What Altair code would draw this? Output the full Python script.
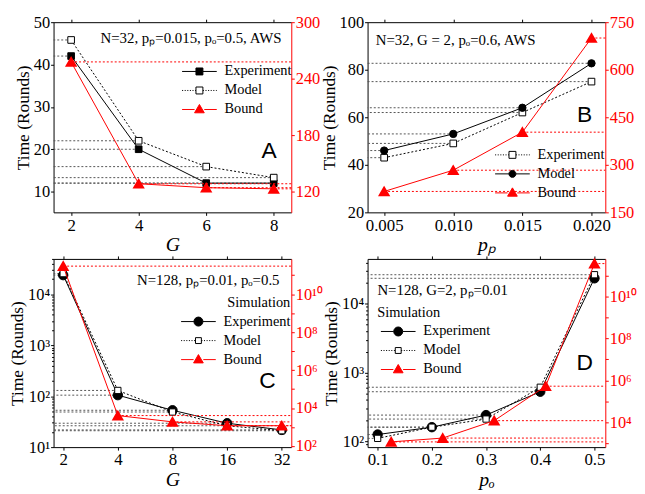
import altair as alt
import pandas as pd

SERIF = "Liberation Serif"
SANS = "Liberation Sans"
RED = "#ff0000"
DROP = "#555555"

# ---------------- Panel A (AWS, vs G) ----------------
A_G = [2, 4, 6, 8]
A_experiment = [42.0, 20.0, 12.0, 12.0]
A_model = [45.8, 22.0, 15.9, 13.3]
A_bound = [257.8, 128.4, 124.2, 123.0]

# ---------------- Panel B (AWS, vs p_p) ----------------
B_pp = [0.005, 0.010, 0.015, 0.020]
B_experiment = [43.0, 49.0, 62.0, 75.0]
B_model = [46.0, 53.0, 64.0, 82.7]
B_bound = [216.0, 283.0, 403.0, 700.0]

# ---------------- Panel C (simulation, vs G) ----------------
C_G = [2, 4, 8, 16, 32]
C_experiment = [24000, 105, 53, 29.5, 21.8]
C_model = [25700, 130, 49, 26.3, 21.0]
C_bound = [3.0e11, 4000, 1860, 1170, 1170]

# ---------------- Panel D (simulation, vs p_o) ----------------
D_po = [0.1, 0.2, 0.3, 0.4, 0.5]
D_experiment = [125, 160, 240, 525, 23500]
D_model = [110, 160, 210, 610, 26500]
D_po_bound = [0.125, 0.22, 0.315, 0.41, 0.5]
D_bound = [1170, 1780, 12000, 525000, 3.6e11]

SERIES = ["Experiment", "Model", "Bound"]

ANNOT = {
    "A": ("N=32, pₚ=0.015, pₒ=0.5, AWS", 8.23, 46.3, "right"),
    "B": ("N=32, G = 2, pₒ=0.6, AWS", 0.00439, 92.5, "left"),
    "C": ("N=128, pₚ=0.01, pₒ=0.5", 31.1, 19000, "right"),
    "D": ("N=128, G=2, pₚ=0.01", 0.0995, 16000, "left"),
}
LETTER = {"A": (7.86, 19.5), "B": (0.0195, 60.8), "C": (26.7, 200), "D": (0.482, 1350)}

W = 240


# ---------- legend symbol paths (line - marker - line) ----------
def seg_solid(x0, x1):
    return f"M{x0:.2f},0H{x1:.2f}"


def seg_dotted(x0, x1, on=0.3, off=0.45):
    s, x = "", x0
    while x < x1 - 1e-9:
        e = min(x + on, x1)
        s += f"M{x:.2f},0H{e:.2f}"
        x = e + off
    return s


def square_path(h):
    return f"M{4-h:.2f},{-h:.2f}H{4+h:.2f}V{h:.2f}H{4-h:.2f}Z"


def circle_path(rc):
    return (f"M{4+rc:.2f},0A{rc},{rc},0,1,1,{4-rc:.2f},0"
            f"A{rc},{rc},0,1,1,{4+rc:.2f},0Z")


TRI = "M4,-1.45L5.4,0.95H2.6Z"


def legend_symbol(marker, gap, dots):
    seg = seg_dotted if dots else seg_solid
    return seg(-1, 4 - gap) + seg(4 + gap, 9) + marker


def sup_expr(exps):
    tr = str.maketrans("0123456789", "⁰¹²³⁴⁵⁶⁷⁸⁹")
    e = "round(log(datum.value)/LN10)"
    parts = [f"{e} == {k} ? '10{str(k).translate(tr)}'" for k in exps]
    return " : ".join(parts) + " : ''"


def legend_layer(paths, fills, strokes, lx, ly, title=None, anchor="start", tpad=4):
    kw = dict(orient="none", legendX=lx, legendY=ly, symbolSize=49,
              symbolStrokeWidth=1, labelFont=SERIF, labelFontSize=14.5,
              labelColor="black", labelOffset=32, rowPadding=4.2, padding=0,
              symbolOpacity=1, labelLimit=300)
    if title:
        kw.update(title=title, titleFont=SERIF, titleFontSize=14.5,
                  titleFontWeight="normal", titleColor="black",
                  titleAnchor=anchor, titlePadding=tpad)
    else:
        kw.update(title=None)
    leg = alt.Legend(**kw)
    df = pd.DataFrame({"series": SERIES})
    return alt.Chart(df).transform_filter("false").mark_point(filled=True, opacity=1).encode(
        shape=alt.Shape("series:N", scale=alt.Scale(domain=SERIES, range=paths), legend=leg),
        fill=alt.Fill("series:N", scale=alt.Scale(domain=SERIES, range=fills), legend=leg),
        stroke=alt.Stroke("series:N", scale=alt.Scale(domain=SERIES, range=strokes), legend=leg),
    )


def make_panel(key, H, xs, xticks, xfmt, xtitle, yl, ylticks, yl_label, yr, yrticks,
               yr_label, left_series, bx, by, legend, minor=None):
    ax_bottom = alt.Axis(orient="bottom", values=xticks, title=xtitle,
                         titleFontStyle="italic", titleFontSize=20, titlePadding=2,
                         tickSize=3, labelPadding=2, format=xfmt, labelFlush=False)
    ax_top = alt.Axis(orient="top", values=xticks, labels=False, title=None,
                      tickSize=3, domain=True)
    lkw = dict(orient="left", values=ylticks, title="Time (Rounds)", titleFontSize=17.5,
               titlePadding=1, tickSize=3, labelPadding=1, labelFontSize=16.5)
    lkw.update(yl_label)
    ax_left = alt.Axis(**lkw)
    rkw = dict(orient="right", values=yrticks, title=None, tickSize=3, labelPadding=1,
               labelFontSize=16.5, domainColor=RED, tickColor=RED, labelColor=RED)
    rkw.update(yr_label)
    ax_right = alt.Axis(**rkw)

    def X(axis=None):
        return alt.X("x:Q", scale=xs, axis=axis)

    def YL(axis=None):
        return alt.Y("y:Q", scale=yl, axis=axis)

    def YR(axis=None):
        return alt.Y("y:Q", scale=yr, axis=axis)

    drop_x, drop_y = [], []
    for s in left_series:
        drop_x += s["x"]
        drop_y += s["y"]
    drops = alt.Chart(pd.DataFrame({"x": drop_x, "y": drop_y})).mark_rule(
        color=DROP, strokeDash=[2, 2], strokeWidth=1
    ).encode(x=X(ax_bottom), x2=alt.value(0), y=YL(ax_left))

    layers = [drops]
    for s in left_series:
        df = pd.DataFrame({"x": s["x"], "y": s["y"]})
        lkw2 = dict(color="black", strokeWidth=1)
        if s["dots"]:
            lkw2["strokeDash"] = [2, 2]
        layers.append(alt.Chart(df).mark_line(**lkw2).encode(x=X(), y=YL()))
    for s in left_series:
        df = pd.DataFrame({"x": s["x"], "y": s["y"]})
        layers.append(alt.Chart(df).mark_point(
            shape=s["shape"], filled=True, fill=s["fill"], stroke="black",
            strokeWidth=1, size=s["size"], opacity=1
        ).encode(x=X(), y=YL()))

    text, tx, ty, talign = ANNOT[key]
    layers.append(alt.Chart(pd.DataFrame({"x": [tx], "y": [ty], "t": [text]})).mark_text(
        font=SERIF, fontSize=15, align=talign, baseline="middle", color="black"
    ).encode(x=X(ax_top), y=YL(), text="t:N"))

    lx_, ly_ = LETTER[key]
    minor_axis = None
    if minor:
        minor_axis = alt.Axis(orient="left", values=minor, labels=False, title=None,
                              domain=False, tickSize=2)
    layers.append(alt.Chart(pd.DataFrame({"x": [lx_], "y": [ly_], "t": [key]})).mark_text(
        font=SANS, fontSize=23, align="center", baseline="middle", color="black"
    ).encode(x=X(), y=YL(minor_axis), text="t:N"))

    layers.append(legend)

    left = alt.layer(*layers).resolve_axis(x="independent", y="independent")

    bdf = pd.DataFrame({"x": bx, "y": by})
    right = alt.layer(
        alt.Chart(bdf).mark_rule(color=RED, strokeDash=[2, 2], strokeWidth=1).encode(
            x=X(), x2=alt.value(W), y=YR(ax_right)),
        alt.Chart(bdf).mark_line(color=RED, strokeWidth=1).encode(x=X(), y=YR()),
        alt.Chart(bdf).mark_point(shape="triangle-up", filled=True, fill=RED, stroke=RED,
                                  size=80, opacity=1).encode(x=X(), y=YR()),
    ).resolve_axis(x="independent", y="independent")
    return alt.layer(left, right).resolve_scale(y="independent").properties(width=W, height=H)


def lin(lo, hi):
    return alt.Scale(domain=[lo, hi], nice=False, zero=False)


def logs(lo, hi, base=10):
    return alt.Scale(type="log", base=base, domain=[lo, hi], nice=False)


RC_BIG, RC_SMALL = 1.3, 1.0

# ---- A ----
legA = legend_layer(
    [legend_symbol(square_path(1.0), 1.0, False),
     legend_symbol(square_path(1.0), 1.0, True),
     legend_symbol(TRI, 1.4, False)],
    ["black", "white", RED], ["black", "black", RED], 126, 42.5)
pA = make_panel(
    "A", 192, lin(1.48, 8.52), A_G, "d", "G",
    lin(5.1, 50), [10, 20, 30, 40, 50], {"format": "d"},
    lin(98, 300), [120, 180, 240, 300], {"format": "d"},
    [dict(x=A_G, y=A_experiment, dots=False, shape="square", fill="black", size=45),
     dict(x=A_G, y=A_model, dots=True, shape="square", fill="white", size=45)],
    A_G, A_bound, legA)

# ---- B ----
legB = legend_layer(
    [legend_symbol(square_path(1.0), 1.0, True),
     legend_symbol(circle_path(RC_SMALL), RC_SMALL, False),
     legend_symbol(TRI, 1.4, False)],
    ["white", "black", RED], ["black", "black", RED], 125, 126.7)
pB = make_panel(
    "B", 192, lin(0.0038, 0.021), B_pp, ".3f", "pₚ",
    lin(20, 100), [20, 40, 60, 80, 100], {"format": "d"},
    lin(150, 750), [150, 300, 450, 600, 750], {"format": "d"},
    [dict(x=B_pp, y=B_experiment, dots=True, shape="square", fill="white", size=45),
     dict(x=B_pp, y=B_model, dots=False, shape="circle", fill="black", size=55)],
    B_pp, B_bound, legB)

# ---- C ----
minorC = [m * 10 ** k for k in range(1, 5) for m in range(2, 10) if m * 10 ** k <= 50000]
legC = legend_layer(
    [legend_symbol(circle_path(RC_BIG), RC_BIG, False),
     legend_symbol(square_path(0.85), 0.85, True),
     legend_symbol(TRI, 1.4, False)],
    ["black", "white", RED], ["black", "black", RED], 125, 37.5,
    title="Simulation", anchor="end", tpad=4)
pC = make_panel(
    "C", 190, logs(1.77, 36.1, 2), C_G, "d", "G",
    logs(10, 50000), [10, 100, 1000, 10000], {"labelExpr": sup_expr([1, 2, 3, 4])},
    logs(87, 7.2e11), [10.0 ** k for k in range(2, 12)], {"labelExpr": sup_expr([2, 4, 6, 8, 10])},
    [dict(x=C_G, y=C_experiment, dots=False, shape="circle", fill="black", size=90),
     dict(x=C_G, y=C_model, dots=True, shape="square", fill="white", size=40)],
    C_G, C_bound, legC, minor=minorC)

# ---- D ----
minorD = [m * 10 ** k for k in range(1, 5) for m in range(2, 10) if 82 <= m * 10 ** k <= 45000]
legD = legend_layer(
    [legend_symbol(circle_path(RC_BIG), RC_BIG, False),
     legend_symbol(square_path(0.85), 0.85, True),
     legend_symbol(TRI, 1.4, False)],
    ["black", "white", RED], ["black", "black", RED], 9.7, 47.5,
    title="Simulation", anchor="start", tpad=4)
pD = make_panel(
    "D", 190, lin(0.0814, 0.52), D_po, ".1f", "pₒ",
    logs(82, 45000), [100, 1000, 10000], {"labelExpr": sup_expr([2, 3, 4])},
    logs(660, 6.0e11), [10.0 ** k for k in range(3, 12)], {"labelExpr": sup_expr([4, 6, 8, 10])},
    [dict(x=D_po, y=D_experiment, dots=False, shape="circle", fill="black", size=90),
     dict(x=D_po, y=D_model, dots=True, shape="square", fill="white", size=40)],
    D_po_bound, D_bound, legD, minor=minorD)

chart = alt.concat(
    pA, pB, pC, pD, columns=2,
    spacing=alt.RowColnumber(row=47, column=77), bounds="flush",
    padding={"left": 0, "top": 3, "right": 0, "bottom": 0},
).resolve_scale(
    shape="independent", fill="independent", stroke="independent"
).configure_axis(
    labelFont=SERIF, labelFontSize=17, titleFont=SERIF, titleFontWeight="normal",
    titleColor="black", labelColor="black", domainColor="black", tickColor="black",
    grid=False, domainWidth=1, tickWidth=1,
).configure_view(stroke="transparent")

chart.save("out.html", embed_options={"renderer": "svg", "actions": False})
